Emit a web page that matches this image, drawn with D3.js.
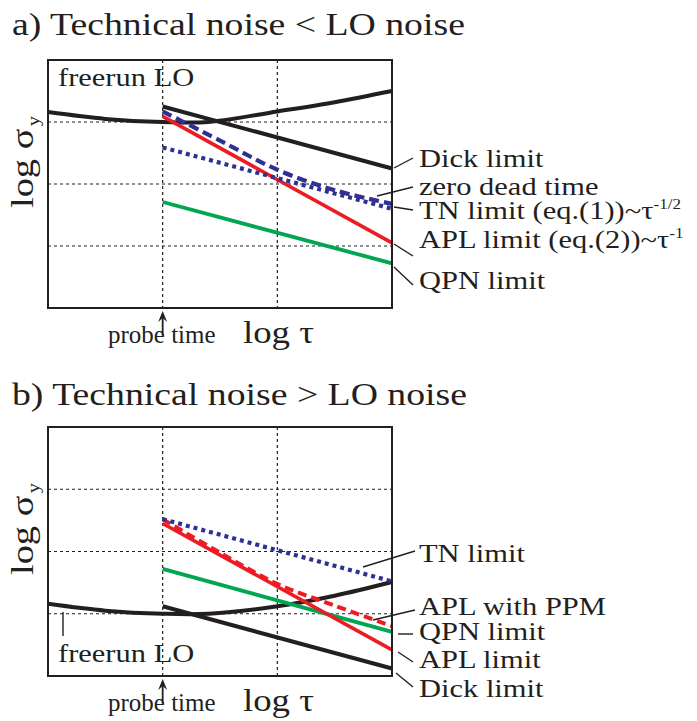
<!DOCTYPE html>
<html>
<head>
<meta charset="utf-8">
<script src="https://cdn.jsdelivr.net/npm/d3@7"></script>
<style>
  body { margin: 0; background: #fff; }
  text { font-family: "Liberation Serif", "Times New Roman", serif; fill: #231f20; }
</style>
</head>
<body>
<div id="fig"></div>
<script>
// values in grid units: x = log tau (3 decades), y = log sigma_y (4 decades)
var freeA_x = [0, 0.5, 1, 1.4, 2, 2.5, 3],
    freeA_y = [3.16, 3.05, 3.0, 3.0, 3.17, 3.32, 3.5];
var dickA_x = [1, 3], dickA_y = [3.25, 2.25];
var zdtA_x = [1, 1.5, 2, 2.5, 3], zdtA_y = [3.17, 2.7, 2.23, 1.9, 1.68];
var tnA_x = [1, 3], tnA_y = [2.59, 1.6];
var aplA_x = [1, 3], aplA_y = [3.09, 1.05];
var qpnA_x = [1, 3], qpnA_y = [1.71, 0.72];

var freeB_x = [0, 0.5, 1, 1.4, 2, 2.5, 3],
    freeB_y = [1.16, 1.05, 1.0, 1.0, 1.12, 1.29, 1.51];
var dickB_x = [1, 3], dickB_y = [1.12, 0.12];
var tnB_x = [1, 3], tnB_y = [2.52, 1.52];
var aplB_x = [1, 3], aplB_y = [2.45, 0.42];
var ppmB_x = [1, 1.5, 2, 2.5, 3], ppmB_y = [2.52, 1.98, 1.48, 1.13, 0.80];
var qpnB_x = [1, 3], qpnB_y = [1.72, 0.71];

var labelsA = ["Dick limit", "zero dead time", "TN limit (eq.(1))~\u03c4", "APL limit (eq.(2))~\u03c4", "QPN limit"],
    supA = ["", "", "-1/2", "-1", ""];
var labelsB = ["TN limit", "APL with PPM", "QPN limit", "APL limit", "Dick limit"];

var W = 697, H = 721;
var svg = d3.select("#fig").append("svg").attr("width", W).attr("height", H);

var x = d3.scaleLinear().domain([0, 3]).range([48, 392]);

var BLUE = "#2e3192", RED = "#ed1c24", GREEN = "#00a651", BLACK = "#231f20";

function zip(xs, ys) { return xs.map(function(v, i) { return [v, ys[i]]; }); }

function txt(g, px, py, s, size, sx) {
  return g.append("text")
    .attr("transform", "translate(" + px + "," + py + ") scale(" + sx + ",1)")
    .attr("font-size", size)
    .text(s);
}

function leader(g, x1, y1, x2, y2) {
  g.append("line").attr("x1", x1).attr("y1", y1).attr("x2", x2).attr("y2", y2)
    .attr("stroke", BLACK).attr("stroke-width", 1.4);
}

function panel(top, bottom, series) {
  var g = svg.append("g");
  var y = d3.scaleLinear().domain([0, 4]).range([bottom, top]);

  // grid
  g.selectAll("line.vg").data([1, 2]).enter().append("line")
    .attr("x1", function(d) { return x(d); }).attr("x2", function(d) { return x(d); })
    .attr("y1", top).attr("y2", bottom)
    .attr("stroke", BLACK).attr("stroke-width", 1.2).attr("stroke-dasharray", "3,3");
  g.selectAll("line.hg").data([1, 2, 3]).enter().append("line")
    .attr("x1", x(0)).attr("x2", x(3))
    .attr("y1", function(d) { return y(d); }).attr("y2", function(d) { return y(d); })
    .attr("stroke", BLACK).attr("stroke-width", 1.2).attr("stroke-dasharray", "3,3");

  // curves
  series.forEach(function(s) {
    var ln = d3.line()
      .x(function(d) { return x(d[0]); })
      .y(function(d) { return y(d[1]); })
      .curve(s.xs.length > 2 ? d3.curveCatmullRom : d3.curveLinear);
    g.append("path")
      .attr("d", ln(zip(s.xs, s.ys)))
      .attr("fill", "none")
      .attr("stroke", s.color)
      .attr("stroke-width", s.w)
      .attr("stroke-dasharray", s.dash || null);
  });

  // frame
  g.append("rect").attr("x", x(0)).attr("y", top)
    .attr("width", x(3) - x(0)).attr("height", bottom - top)
    .attr("fill", "none").attr("stroke", BLACK).attr("stroke-width", 2);

  // y label
  var yl = g.append("text")
    .attr("transform", "translate(33," + (top + 148) + ") rotate(-90) scale(1.2,1)")
    .attr("font-size", 32);
  yl.append("tspan").text("log \u03c3");
  yl.append("tspan").attr("font-size", 17).attr("dy", 6).attr("dx", 2).text("y");

  // x label + probe time arrow
  var by = bottom + 35;
  txt(g, 243, by, "log \u03c4", 32, 1.15);
  txt(g, 108, by, "probe time", 25, 1.0);
  var ax = x(1);
  g.append("line").attr("x1", ax).attr("x2", ax).attr("y1", bottom + 8).attr("y2", bottom + 25)
    .attr("stroke", BLACK).attr("stroke-width", 1.8);
  g.append("path")
    .attr("d", "M" + ax + "," + (bottom + 3) + " L" + (ax + 4.5) + "," + (bottom + 14) +
               " L" + ax + "," + (bottom + 10) + " L" + (ax - 4.5) + "," + (bottom + 14) + "Z")
    .attr("fill", BLACK);
  return g;
}

// panel a
var gA = panel(60, 308, [
  { xs: freeA_x, ys: freeA_y, color: BLACK, w: 4 },
  { xs: dickA_x, ys: dickA_y, color: BLACK, w: 4 },
  { xs: qpnA_x, ys: qpnA_y, color: GREEN, w: 3.8 },
  { xs: aplA_x, ys: aplA_y, color: RED, w: 3.6 },
  { xs: tnA_x, ys: tnA_y, color: BLUE, w: 4.2, dash: "4,4" },
  { xs: zdtA_x, ys: zdtA_y, color: BLUE, w: 4.2, dash: "10,5" }
]);
txt(svg, 12, 35, "a) Technical noise < LO noise", 32, 1.18);
txt(gA, 58, 86, "freerun LO", 25, 1.22);

var labA_y = [167, 195, 219, 248, 289];
var leadA = [[394, 168, 413, 158], [377, 196, 413, 187], [394, 207, 413, 210], [394, 244, 413, 256], [394, 267, 413, 285]];
labelsA.forEach(function(s, i) {
  var t = txt(gA, 419, labA_y[i], s, 25, 1.22);
  if (supA[i]) t.append("tspan").attr("font-size", 14).attr("dy", -10).text(supA[i]);
  leader(gA, leadA[i][0], leadA[i][1], leadA[i][2], leadA[i][3]);
});

// panel b
var gB = panel(427, 676, [
  { xs: freeB_x, ys: freeB_y, color: BLACK, w: 4 },
  { xs: dickB_x, ys: dickB_y, color: BLACK, w: 4 },
  { xs: qpnB_x, ys: qpnB_y, color: GREEN, w: 3.8 },
  { xs: aplB_x, ys: aplB_y, color: RED, w: 3.6 },
  { xs: ppmB_x, ys: ppmB_y, color: RED, w: 4, dash: "9,5" },
  { xs: tnB_x, ys: tnB_y, color: BLUE, w: 4.2, dash: "4,4" }
]);
txt(svg, 12, 405, "b) Technical noise > LO noise", 32, 1.18);
txt(gB, 58, 662, "freerun LO", 25, 1.22);
leader(gB, 63, 612, 63, 636);

var labB_y = [562, 615, 640, 668, 697];
var leadB = [[363, 567, 415, 551], [373, 620, 415, 610], [398, 634, 413, 634], [398, 652, 413, 662], [396, 673, 413, 687]];
labelsB.forEach(function(s, i) {
  txt(gB, 419, labB_y[i], s, 25, 1.22);
  leader(gB, leadB[i][0], leadB[i][1], leadB[i][2], leadB[i][3]);
});
</script>
</body>
</html>
